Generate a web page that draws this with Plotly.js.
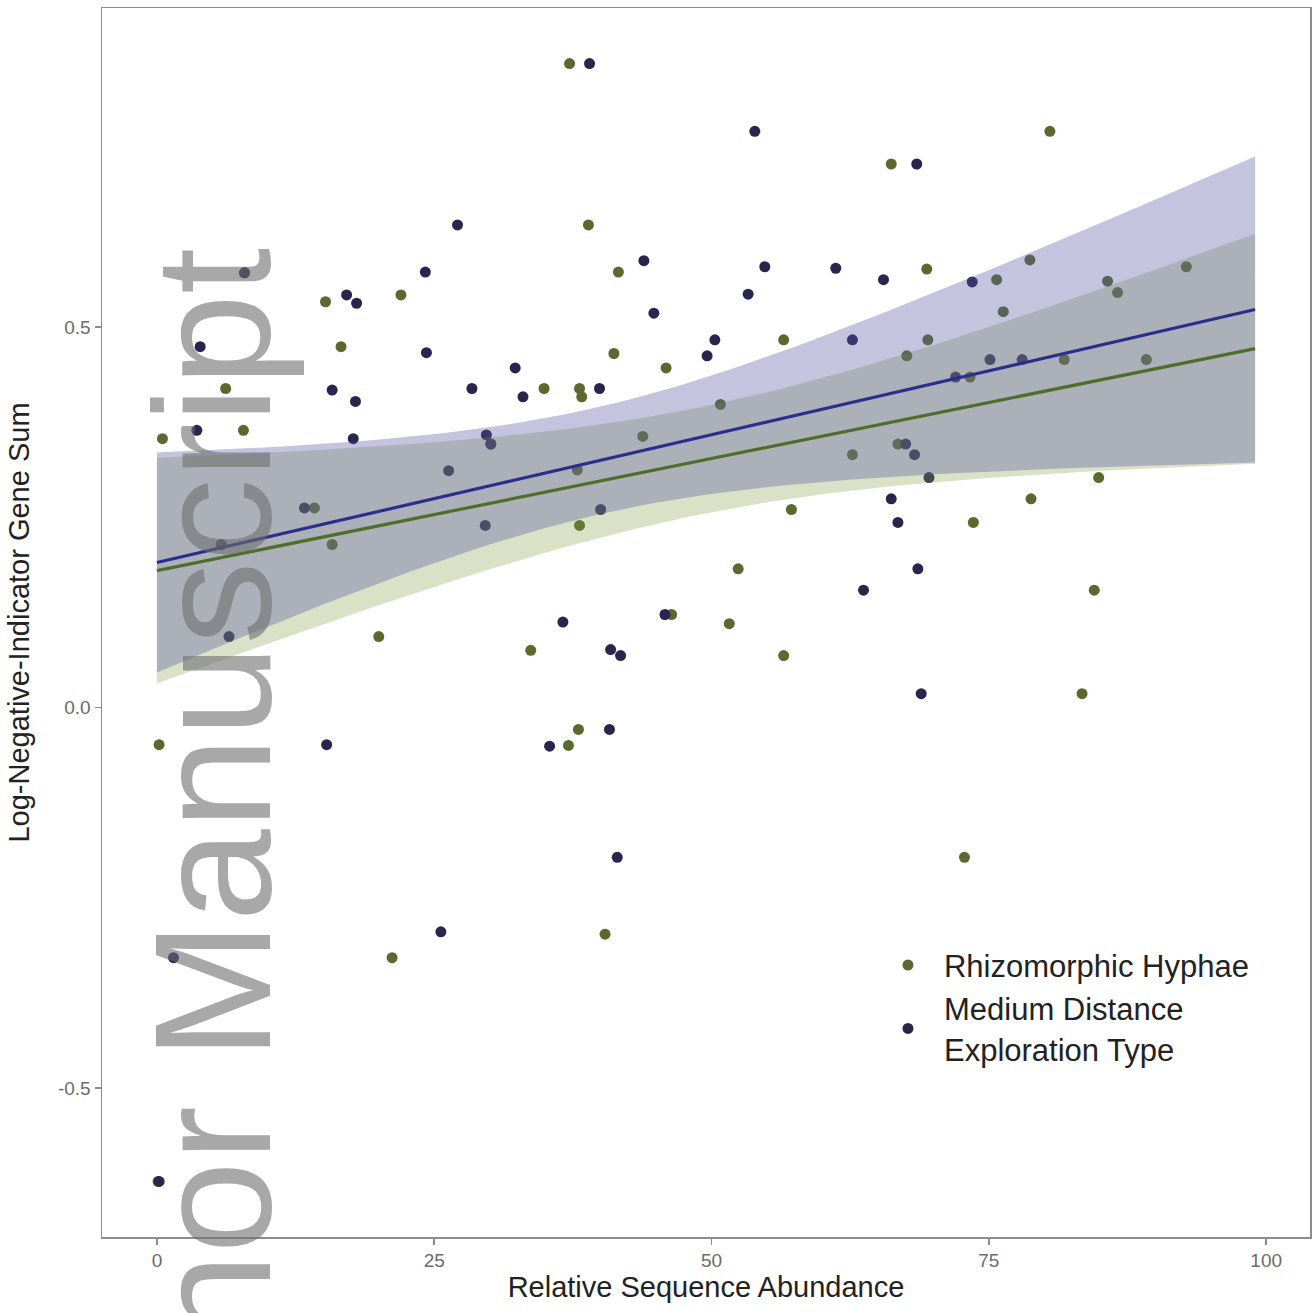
<!DOCTYPE html>
<html><head><meta charset="utf-8">
<script src="https://cdn.plot.ly/plotly-3.0.1.min.js"></script>
<style>html,body{margin:0;padding:0;background:#fff}#chart{width:1315px;height:1313px}</style>
</head><body><div id="chart"></div>
<script>
// ---- data (each sample appears once per group, same y) ----
const seriesNames = ["Rhizomorphic Hyphae", "Medium Distance<br>Exploration Type"];
const rhizoX = [37.2,66.2,80.5,38.9,41.6,69.4,75.7,78.7,85.7,86.6,92.8,76.3,15.2,22.0,16.6,6.2,34.9,38.1,38.3,41.2,45.9,56.5,69.5,67.6,89.2,81.8,73.3,0.5,7.8,50.8,43.8,37.9,38.1,15.8,57.2,62.7,84.9,78.8,73.6,52.4,84.5,51.6,20.0,33.7,56.5,83.4,0.2,38.0,37.1,72.8,40.4,21.2,14.2,46.4,66.8,0.1,7.9,30.1];
const rhizoY = [0.846,0.714,0.757,0.634,0.572,0.576,0.562,0.588,0.560,0.545,0.579,0.520,0.533,0.542,0.474,0.419,0.419,0.419,0.408,0.465,0.446,0.483,0.483,0.462,0.457,0.457,0.434,0.353,0.364,0.398,0.356,0.312,0.239,0.214,0.260,0.332,0.302,0.274,0.243,0.182,0.154,0.110,0.093,0.075,0.068,0.018,-0.049,-0.029,-0.050,-0.197,-0.298,-0.329,0.262,0.122,0.346,-0.623,0.571,0.346];
const mdX = [39.0,53.9,68.5,27.1,7.9,24.2,43.9,54.8,61.2,65.5,44.8,53.3,73.5,17.1,18.0,3.9,24.3,15.8,17.9,28.4,32.3,33.0,39.9,50.3,49.6,62.7,75.1,78.0,72.0,3.6,17.7,29.7,30.1,26.3,5.8,29.6,40.0,67.5,68.3,69.6,66.2,66.8,68.6,63.7,6.5,36.6,40.9,41.8,68.9,15.3,35.4,40.8,41.5,25.6,1.5,0.2,13.3,45.8];
const mdY = [0.846,0.757,0.714,0.634,0.571,0.572,0.587,0.579,0.577,0.562,0.518,0.543,0.559,0.542,0.531,0.474,0.466,0.417,0.402,0.419,0.446,0.408,0.419,0.483,0.462,0.483,0.457,0.457,0.434,0.364,0.353,0.358,0.346,0.311,0.214,0.239,0.260,0.346,0.332,0.302,0.274,0.243,0.182,0.154,0.093,0.112,0.076,0.068,0.018,-0.049,-0.051,-0.029,-0.197,-0.295,-0.329,-0.623,0.262,0.122];
const fitRange = [0, 99];
const xTicks = [0, 25, 50, 75, 100];
const yTicks = [-0.5, 0.0, 0.5];

// ---- linear model with 95% confidence band (like geom_smooth(method = "lm")) ----
function tq975(df){const z=1.959964;return z+(z*z*z+z)/(4*df)+(5*Math.pow(z,5)+16*z*z*z+3*z)/(96*df*df);}
function lmBand(xs, ys, lo, hi, n){
  const N=xs.length; const mx=xs.reduce((a,b)=>a+b,0)/N; const my=ys.reduce((a,b)=>a+b,0)/N;
  let sxx=0,sxy=0; for(let i=0;i<N;i++){sxx+=(xs[i]-mx)**2; sxy+=(xs[i]-mx)*(ys[i]-my);}
  const b=sxy/sxx, a=my-b*mx; let sse=0; for(let i=0;i<N;i++){sse+=(ys[i]-a-b*xs[i])**2;}
  const s=Math.sqrt(sse/(N-2)); const t=tq975(N-2);
  const gx=[],fy=[],up=[],dn=[];
  for(let k=0;k<n;k++){const x=lo+(hi-lo)*k/(n-1); const f=a+b*x; const se=s*Math.sqrt(1/N+(x-mx)**2/sxx);
    gx.push(x); fy.push(f); up.push(f+t*se); dn.push(f-t*se);}
  return {gx,fy,up,dn};
}
const gFit = lmBand(rhizoX, rhizoY, fitRange[0], fitRange[1], 80);
const bFit = lmBand(mdX, mdY, fitRange[0], fitRange[1], 80);

const greenPt = "#5a6a2e", navyPt = "#28264f";
const greenLine = "#4f6e2b", navyLine = "#2b2e8c";

function ribbon(fit, color){
  return {x: fit.gx.concat(fit.gx.slice().reverse()), y: fit.up.concat(fit.dn.slice().reverse()),
    type:"scatter", mode:"lines", fill:"toself", fillcolor:color, line:{width:0}, hoverinfo:"skip", showlegend:false};
}

const traces = [
  {x: rhizoX, y: rhizoY, type:"scatter", mode:"markers", name: seriesNames[0], marker:{color:greenPt, size:11}},
  {x: mdX, y: mdY, type:"scatter", mode:"markers", name: seriesNames[1], marker:{color:navyPt, size:11}},
  ribbon(gFit, "rgba(130,160,70,0.30)"),
  ribbon(bFit, "rgba(90,85,160,0.35)"),
  {x: gFit.gx, y: gFit.fy, type:"scatter", mode:"lines", line:{color:greenLine, width:3.2}, showlegend:false, hoverinfo:"skip"},
  {x: bFit.gx, y: bFit.fy, type:"scatter", mode:"lines", line:{color:navyLine, width:3.2}, showlegend:false, hoverinfo:"skip"}
];

const axisCommon = {showgrid:false, zeroline:false, showline:true, mirror:true, linecolor:"#8c8c8c", linewidth:1.5,
  ticks:"outside", ticklen:6, tickwidth:1.5, tickcolor:"#8c8c8c", tickfont:{size:19, color:"#6b6b6b"}, automargin:false};

const layout = {
  width:1315, height:1313, paper_bgcolor:"#fff", plot_bgcolor:"#fff",
  margin:{l:102, r:5, t:8, b:76},
  font:{family:"Liberation Sans, Arial, sans-serif", color:"#222"},
  xaxis: Object.assign({}, axisCommon, {range:[-4.95,103.95], tickvals:xTicks, ticktext:xTicks.map(String),
    title:{text:"Relative Sequence Abundance", font:{size:29, color:"#222"}, standoff:4}}),
  yaxis: Object.assign({}, axisCommon, {range:[-0.696,0.919], tickvals:yTicks, ticktext:yTicks.map(v=>v.toFixed(1)),
    title:{text:"Log-Negative-Indicator Gene Sum", font:{size:29, color:"#222"}, standoff:20}}),
  legend:{x:0.6374, y:0.243, xanchor:"left", yanchor:"top", bgcolor:"rgba(0,0,0,0)", font:{size:31, color:"#222"}, itemwidth:62},
  annotations:[{text:"Author Manuscript", xref:"paper", yref:"paper", x:0.091, y:0.2571, xanchor:"center", yanchor:"middle", textangle:-90,
    showarrow:false, font:{family:"Liberation Sans, Arial, sans-serif", size:166, color:"rgba(110,110,110,0.6)"}}]
};

Plotly.newPlot("chart", traces, layout, {displayModeBar:false, staticPlot:true});
</script></body></html>
